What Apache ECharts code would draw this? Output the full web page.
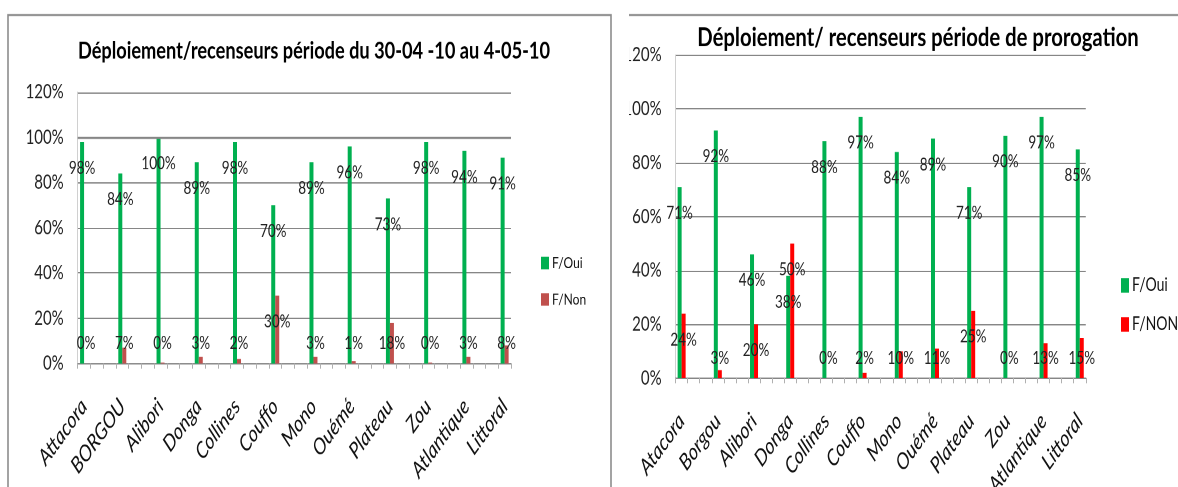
<!DOCTYPE html>
<html><head><meta charset="utf-8">
<script src="https://cdn.jsdelivr.net/npm/echarts@6/dist/echarts.min.js"></script>
<style>
html,body{margin:0;padding:0;background:#fff;width:1178px;height:487px;overflow:hidden;position:relative;}
.chart{position:absolute;top:0;transform-origin:0 0;}
</style></head><body>
<div id="c1" class="chart"></div><div id="c2" class="chart"></div>
<script>
// ---- data ----
const titleLeft = 'Déploiement/recenseurs période du 30-04 -10 au 4-05-10';
const categoriesLeft = ['Attacora','BORGOU','Alibori','Donga','Collines','Couffo','Mono','Ouémé','Plateau','Zou','Atlantique','Littoral'];
const ouiLeft = [98, 84, 100, 89, 98, 70, 89, 96, 73, 98, 94, 91];
const nonLeft = [0, 7, 0.4, 3, 2, 30, 3, 1, 18, 0.4, 3, 8];
const legendLeft = ['F/Oui', 'F/Non'];

const titleRight = 'Déploiement/ recenseurs période de prorogation';
const categoriesRight = ['Atacora','Borgou','Alibori','Donga','Collines','Couffo','Mono','Ouémé','Plateau','Zou','Atlantique','Littoral'];
const ouiRight = [71, 92, 46, 38, 88, 97, 84, 89, 71, 90, 97, 85];
const nonRight = [24, 3, 20, 50, 0, 2, 10, 11, 25, 0, 13, 15];
const legendRight = ['F/Oui', 'F/NON'];

const yTickValues = [0, 20, 40, 60, 80, 100, 120];

// ---- layout helpers ----
// The source picture is stretched vertically; charts are drawn at 1/K height and stretched by K.
const K = 1.3;
const PAGE_H = 487;
const H = PAGE_H / K;
const FONT = "Lato, 'Open Sans', sans-serif";
const SLOTS = 3; // each category is followed by 2 empty slots (as in the source workbook)

function padCats(cats) {
  const out = [];
  cats.forEach((c, i) => {
    out.push(c);
    if (i < cats.length - 1) for (let k = 1; k < SLOTS; k++) out.push(' '.repeat(i * SLOTS + k));
  });
  return out;
}
function padVals(vals) {
  const out = [];
  vals.forEach((v, i) => {
    out.push({ value: v, label: v >= 19 ? { position: 'insideTop', distance: 13 } : { position: 'insideBottom', distance: 8.5 } });
    if (i < vals.length - 1) for (let k = 1; k < SLOTS; k++) out.push('-');
  });
  return out;
}
function build(o) {
  const W = o.width;
  return {
    animation: false,
    textStyle: { fontFamily: FONT },
    title: {
      text: o.title, left: o.titleX, top: o.titleCY / K - o.titleSize / 2, textAlign: 'center', padding: 0,
      textStyle: { fontFamily: FONT, fontWeight: 'bold', fontSize: o.titleSize, color: '#000' }
    },
    graphic: o.graphic,
    legend: {
      data: o.legend, orient: 'vertical', left: o.legendX, top: o.legendCY[0] / K - o.legendSize / 2,
      itemGap: (o.legendCY[1] - o.legendCY[0]) / K - o.legendSize,
      icon: 'rect', itemWidth: 8, itemHeight: o.legendSize * 0.8, padding: 0,
      textStyle: { fontFamily: FONT, fontSize: o.legendSize, color: '#111', padding: [0, 0, 0, -2] }
    },
    grid: { left: o.plotX[0], right: W - o.plotX[1], top: o.plotY[0] / K, bottom: H - o.plotY[1] / K,
            containLabel: false, outerBoundsMode: 'none' },
    xAxis: {
      type: 'category', data: padCats(o.cats), boundaryGap: true,
      axisLine: { lineStyle: { color: '#868686', width: 1 } },
      axisTick: { show: true, interval: 0, length: 4, lineStyle: { color: '#b0b0b0' } },
      axisLabel: { interval: 0, rotate: 47, margin: 30, padding: [16, 0, 0, 0], fontStyle: 'italic', fontSize: 17.5, color: '#111', fontFamily: FONT }
    },
    yAxis: {
      type: 'value', min: yTickValues[0], max: yTickValues[yTickValues.length - 1], interval: 20,
      axisLine: { show: true, lineStyle: { color: '#d0d0d0' } },
      axisTick: { show: false },
      splitLine: { lineStyle: { color: '#868686', width: 1 } },
      axisLabel: { formatter: '{value}%', fontSize: 15, color: '#222', margin: 14, fontFamily: FONT }
    },
    series: [
      {
        name: o.legend[0], type: 'bar', data: padVals(o.oui), barWidth: 4, barGap: '0%',
        itemStyle: { color: '#00B050' },
        label: { show: true, formatter: p => Math.round(p.value) + '%', fontSize: 13.5, color: '#222', fontFamily: FONT },
        markLine: o.mark100 ? { silent: true, symbol: 'none', label: { show: false },
          lineStyle: { color: '#868686', width: 1.6, type: 'solid' }, data: [{ yAxis: 100 }] } : undefined
      },
      {
        name: o.legend[1], type: 'bar', data: padVals(o.non), barWidth: 4, barGap: '0%',
        itemStyle: { color: o.redColor },
        label: { show: true, formatter: p => Math.round(p.value) + '%', fontSize: 13.5, color: '#222', fontFamily: FONT }
      }
    ]
  };
}

function mount(id, left, width, opt) {
  const el = document.getElementById(id);
  el.style.left = left + 'px';
  el.style.width = width + 'px';
  el.style.height = H + 'px';
  el.style.transform = 'scaleY(' + K + ')';
  const chart = echarts.init(el, null, { renderer: 'canvas', devicePixelRatio: 2, width: width, height: H });
  chart.setOption(opt);
}

// left chart (page x = chart x)
const W1 = 614;
mount('c1', 0, W1, build({
  width: W1,
  title: titleLeft, titleX: 314, titleCY: 51, titleSize: 18.2,
  legend: legendLeft, legendX: 541, legendCY: [262.7, 299], legendSize: 12,
  plotX: [77.7, 511], plotY: [92, 363],
  cats: categoriesLeft, oui: ouiLeft, non: nonLeft, redColor: '#C0504D', mark100: true,
  graphic: [{ type: 'rect', shape: { x: 8, y: 15 / K, width: 603, height: H }, style: { fill: 'none', stroke: '#8c8c8c', lineWidth: 1.6 }, silent: true }]
}));

// right chart (page x = chart x + 629)
const X2 = 629, W2 = 1178 - 629;
mount('c2', X2, W2, build({
  width: W2,
  title: titleRight, titleX: 918 - X2, titleCY: 38, titleSize: 20.3,
  legend: legendRight, legendX: 1121 - X2, legendCY: [285, 324], legendSize: 14,
  plotX: [675.6 - X2, 1085.8 - X2], plotY: [55, 377.7],
  cats: categoriesRight, oui: ouiRight, non: nonRight, redColor: '#FF0000', mark100: false,
  graphic: [{ type: 'line', shape: { x1: 0, y1: 15 / K, x2: W2, y2: 15 / K }, style: { stroke: '#8c8c8c', lineWidth: 1.6 }, silent: true }]
}));
</script>
</body></html>
